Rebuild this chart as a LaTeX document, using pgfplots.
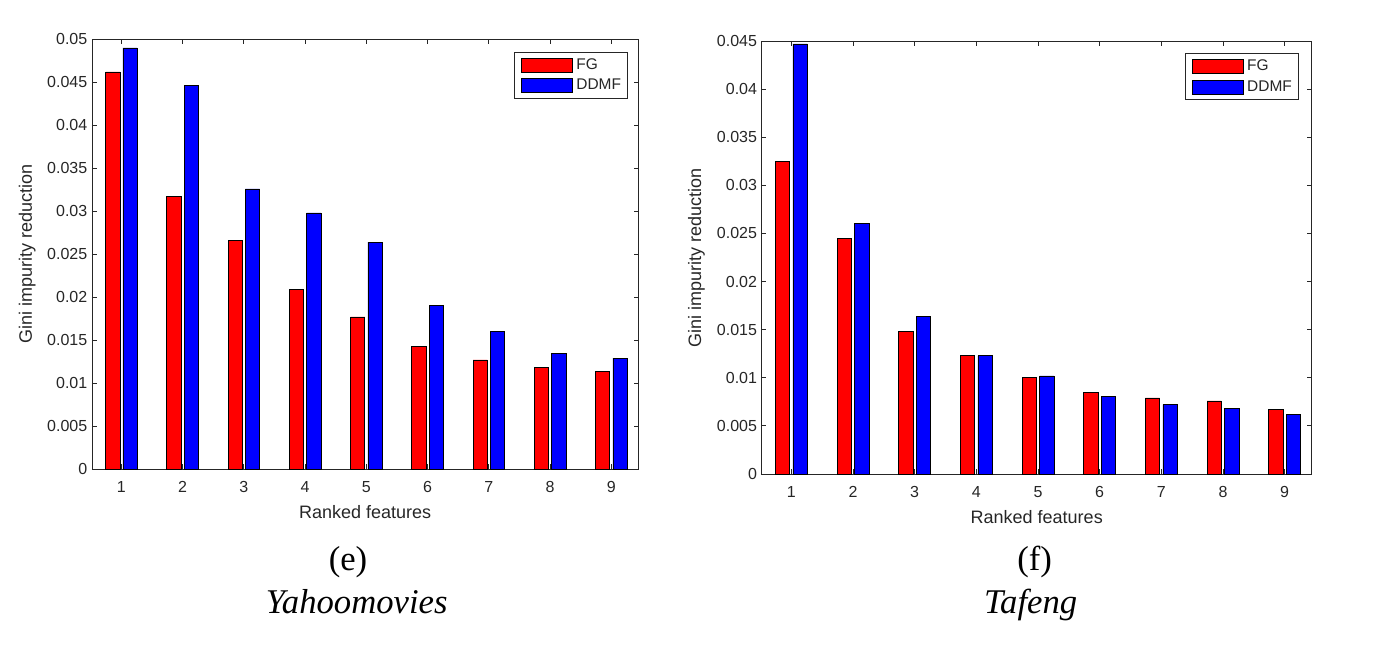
\documentclass[border=0pt]{standalone}
\usepackage{fontspec}
\setmainfont{Liberation Sans}
\newfontfamily\capfont{Liberation Serif}
\usepackage{pgfplots}
\pgfplotsset{compat=1.18}
\definecolor{mg}{rgb}{0.15,0.15,0.15}

\pgfplotstableread{
x fg ddmf
1 0.0462 0.0490
2 0.0317 0.0446
3 0.0266 0.0326
4 0.0209 0.0298
5 0.0177 0.0264
6 0.0143 0.0190
7 0.0127 0.0160
8 0.0118 0.0135
9 0.0114 0.0129
}\yahoo

\pgfplotstableread{
x fg ddmf
1 0.0325 0.0447
2 0.0245 0.0260
3 0.0148 0.0164
4 0.0123 0.0123
5 0.0100 0.0102
6 0.0085 0.0081
7 0.0079 0.0072
8 0.0076 0.0068
9 0.0067 0.0062
}\tafeng

\pgfplotsset{
  mstyle/.style={
    scale only axis,
    scaled y ticks=false,
    axis line style={mg, line width=0.7pt},
    tick style={mg, line width=0.6pt},
    major tick length=3.5pt,
    tick align=inside,
    xtick={1,2,3,4,5,6,7,8,9},
    xticklabels={1,2,3,4,5,6,7,8,9},
    xmin=0.52, xmax=9.44, ymin=0,
    ticklabel style={font=\fontsize{12}{14}\selectfont, text=mg},
    xticklabel style={yshift=-5.75pt},
    label style={font=\fontsize{13.5}{16}\selectfont, text=mg},
    xlabel={Ranked features},
    ylabel={Gini impurity reduction},
    legend cell align=left,
    legend style={
      anchor=north east,
      draw=mg, line width=0.6pt, fill=white,
      font=\fontsize{11.6}{13}\selectfont, text=mg,
      inner xsep=4.6pt, inner ysep=4pt,
      row sep=4.5pt,
      nodes={inner sep=0.5pt},
      /tikz/every odd column/.append style={column sep=2.5pt},
    },
  },
  fgbar/.style={ybar, bar width=0.233, bar shift=-0.142, fill=red, draw=black, line width=0.5pt,
    legend image code/.code={\draw[black, line width=0.5pt, fill=red] (0pt,-5.25pt) rectangle (38.25pt,5.25pt);}},
  ddbar/.style={ybar, bar width=0.233, bar shift=0.142, fill=blue, draw=black, line width=0.5pt,
    legend image code/.code={\draw[black, line width=0.5pt, fill=blue] (0pt,-5.25pt) rectangle (38.25pt,5.25pt);}},
}

\begin{document}
\begin{tikzpicture}
\useasboundingbox (0,0) rectangle (1034.25pt,-492pt);

\begin{axis}[mstyle,
  at={(69pt,-29.5pt)}, anchor=north west,
  width=409.7pt, height=322.3pt,
  ymax=0.05,
  ytick={0,0.005,0.01,0.015,0.02,0.025,0.03,0.035,0.04,0.045,0.05},
  yticklabels={0,0.005,0.01,0.015,0.02,0.025,0.03,0.035,0.04,0.045,0.05},
  xlabel style={at={(axis description cs:0.5,-0.1154)}, anchor=base},
  ylabel style={at={(axis description cs:-0.11,0.5)}, anchor=base},
  legend style={at={(0.9817,0.971)}},
]
\addplot[fgbar] table[x=x, y=fg] {\yahoo};
\addplot[ddbar] table[x=x, y=ddmf] {\yahoo};
\legend{FG,DDMF}
\end{axis}

\begin{axis}[mstyle,
  at={(571.3pt,-30.75pt)}, anchor=north west,
  width=412.5pt, height=324.75pt,
  ymax=0.045,
  ytick={0,0.005,0.01,0.015,0.02,0.025,0.03,0.035,0.04,0.045},
  yticklabels={0,0.005,0.01,0.015,0.02,0.025,0.03,0.035,0.04,0.045},
  xlabel style={at={(axis description cs:0.5,-0.1145)}, anchor=base},
  ylabel style={at={(axis description cs:-0.11,0.5)}, anchor=base},
  legend style={at={(0.977,0.972)}},
]
\addplot[fgbar] table[x=x, y=fg] {\tafeng};
\addplot[ddbar] table[x=x, y=ddmf] {\tafeng};
\legend{FG,DDMF}
\end{axis}

\node[anchor=base, font=\capfont\fontsize{26}{30}\selectfont] at (261pt,-427.5pt) {(e)};
\node[anchor=base, font=\capfont\itshape\fontsize{26}{30}\selectfont] at (267.5pt,-459.75pt) {Yahoomovies};
\node[anchor=base, font=\capfont\fontsize{26}{30}\selectfont] at (776pt,-427.5pt) {(f)};
\node[anchor=base, font=\capfont\itshape\fontsize{26}{30}\selectfont] at (773pt,-459.75pt) {Tafeng};
\end{tikzpicture}
\end{document}
